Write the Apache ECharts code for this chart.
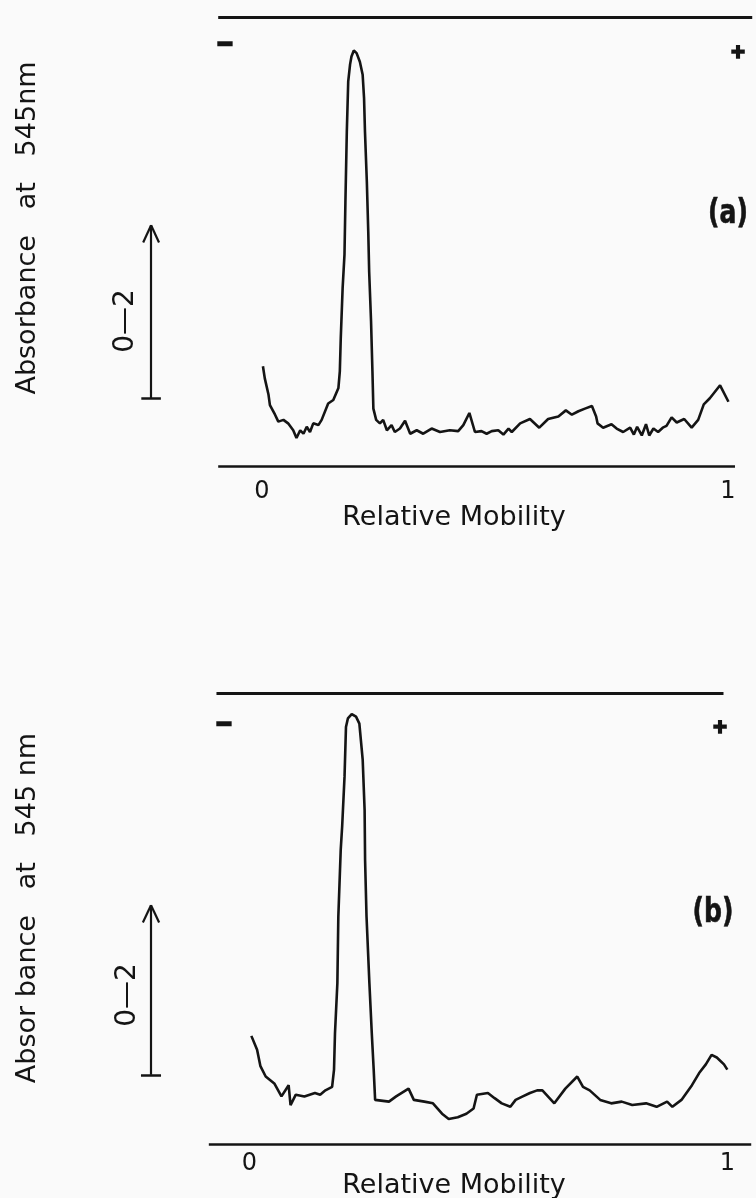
<!DOCTYPE html>
<html>
<head>
<meta charset="utf-8">
<script src="https://cdn.jsdelivr.net/npm/echarts@6/dist/echarts.min.js"></script>
<style>
html,body{margin:0;padding:0;background:#fafafa;}
#chart{width:756px;height:1198px;}
</style>
</head>
<body>
<div id="chart"></div>
<script>
// ---- data (relative mobility, absorbance at 545 nm) ----
const panelNames = ['(a)', '(b)'];
const mobilityTickLabels = ['0', '1'];
const xTitle = 'Relative Mobility';
const yTitles = ['Absorbance   at   545nm', 'Absor bance   at   545 nm'];
const scaleLabel = '0\u20142';
const scaleBarA = [0.079, 0.279];   // 0.2 absorbance units
const scaleBarB = [0.080, 0.276];

const traceA = [
 [0.002,0.116],[0.006,0.102],[0.014,0.083],[0.017,0.071],[0.028,0.060],[0.035,0.052],[0.046,0.054],
 [0.056,0.050],[0.067,0.042],[0.074,0.033],[0.082,0.042],[0.089,0.038],[0.096,0.046],[0.103,0.040],
 [0.110,0.050],[0.121,0.048],[0.128,0.054],[0.142,0.073],[0.153,0.077],[0.164,0.091],[0.167,0.110],
 [0.169,0.148],[0.173,0.206],[0.177,0.245],[0.179,0.306],[0.182,0.387],[0.185,0.445],[0.189,0.465],
 [0.192,0.474],[0.197,0.481],[0.203,0.478],[0.210,0.468],[0.216,0.453],[0.219,0.426],[0.221,0.387],
 [0.225,0.329],[0.228,0.272],[0.230,0.225],[0.234,0.168],[0.237,0.110],[0.239,0.067],[0.245,0.054],
 [0.253,0.050],[0.260,0.054],[0.268,0.042],[0.278,0.048],[0.285,0.040],[0.296,0.044],[0.307,0.053],
 [0.318,0.038],[0.332,0.042],[0.346,0.038],[0.364,0.044],[0.382,0.040],[0.403,0.042],[0.421,0.041],
 [0.432,0.048],[0.445,0.062],[0.457,0.040],[0.471,0.041],[0.482,0.038],[0.493,0.041],[0.507,0.042],
 [0.518,0.037],[0.529,0.044],[0.536,0.040],[0.554,0.050],[0.575,0.055],[0.595,0.045],[0.614,0.055],
 [0.636,0.058],[0.652,0.065],[0.665,0.060],[0.679,0.064],[0.693,0.067],[0.708,0.070],[0.717,0.058],
 [0.720,0.050],[0.732,0.045],[0.750,0.049],[0.761,0.044],[0.775,0.040],[0.790,0.045],[0.798,0.037],
 [0.805,0.046],[0.815,0.036],[0.824,0.049],[0.831,0.036],[0.840,0.044],[0.850,0.040],[0.860,0.045],
 [0.868,0.047],[0.879,0.057],[0.890,0.051],[0.906,0.055],[0.922,0.045],[0.936,0.054],[0.948,0.072],
 [0.961,0.079],[0.983,0.094],[1.001,0.075]
];

const traceB = [
 [0.004,0.125],[0.016,0.109],[0.023,0.090],[0.034,0.078],[0.052,0.070],[0.067,0.055],[0.082,0.068],
 [0.086,0.045],[0.097,0.057],[0.115,0.055],[0.137,0.059],[0.148,0.057],[0.159,0.062],[0.173,0.066],
 [0.177,0.086],[0.179,0.128],[0.184,0.186],[0.186,0.263],[0.191,0.340],[0.194,0.367],[0.199,0.425],
 [0.202,0.482],[0.206,0.492],[0.214,0.497],[0.223,0.494],[0.230,0.486],[0.237,0.444],[0.241,0.386],
 [0.242,0.328],[0.245,0.263],[0.251,0.186],[0.256,0.128],[0.260,0.086],[0.263,0.051],
 [0.292,0.049],[0.307,0.055],[0.333,0.064],[0.344,0.051],[0.366,0.049],[0.384,0.047],[0.403,0.035],
 [0.417,0.029],[0.436,0.031],[0.454,0.035],[0.469,0.041],[0.476,0.057],[0.499,0.059],[0.513,0.053],
 [0.528,0.047],[0.546,0.043],[0.557,0.051],[0.572,0.055],[0.587,0.059],[0.602,0.062],[0.613,0.062],
 [0.638,0.047],[0.661,0.064],[0.686,0.078],[0.698,0.066],[0.712,0.062],[0.734,0.051],[0.757,0.047],
 [0.779,0.049],[0.801,0.045],[0.830,0.047],[0.852,0.043],[0.874,0.049],[0.885,0.043],[0.904,0.051],
 [0.926,0.068],[0.941,0.082],[0.955,0.092],[0.967,0.103],[0.978,0.100],[0.993,0.092],[1.000,0.086]
];

// ---- chart ----
const INK = '#141414';
const FONT = 'DejaVu Sans';
const chart = echarts.init(document.getElementById('chart'), null, {renderer: 'canvas'});

function tickFormatter(v) {
  if (Math.abs(v) < 1e-6) return mobilityTickLabels[0];
  if (Math.abs(v - 1) < 1e-6) return mobilityTickLabels[1];
  return '';
}

// rails above and below the trace, plus the 0.2-absorbance scale arrow
function frameLines(topY, topX0, topX1, baseX0, baseX1, bar, barX) {
  const seg = (a, b, w) => [{coord: a, lineStyle: {width: w}}, {coord: b}];
  return [
    seg([topX0, topY], [topX1, topY], 3),
    seg([baseX0, 0], [baseX1, 0], 2.5),
    seg([barX, bar[0]], [barX, bar[1]], 2.2),
    seg([barX - 0.017, bar[1] - 0.02], [barX, bar[1]], 2.2),
    seg([barX, bar[1]], [barX + 0.017, bar[1] - 0.02], 2.2),
    seg([barX - 0.021, bar[0]], [barX + 0.021, bar[0]], 2.5)
  ];
}

function txt(x, y, text, size, extra) {
  return Object.assign({
    type: 'text', x: x, y: y, silent: true,
    style: {text: text, fill: INK, font: size + 'px "' + FONT + '"', align: 'center', verticalAlign: 'middle'}
  }, extra || {});
}
function sign(x, y, text, size, lw) {
  return {type: 'text', x: x, y: y, silent: true,
    style: {text: text, fill: INK, stroke: INK, lineWidth: lw, font: 'bold ' + size + 'px "Liberation Sans"', align: 'center', verticalAlign: 'middle'}};
}
function panelTag(x, y, text) {
  return {type: 'text', x: x, y: y, scaleX: 0.82, silent: true,
    style: {text: text, fill: INK, stroke: INK, lineWidth: 0.6, font: 'bold 34px "DejaVu Sans Condensed", "DejaVu Sans"', align: 'center', verticalAlign: 'middle'}};
}

const option = {
  backgroundColor: '#fafafa',
  animation: false,
  grid: [
    {left: 29, width: 726.96, top: 8.15, height: 458.45},
    {left: 10.5, width: 750.36, top: 685.55, height: 458.45}
  ],
  xAxis: [0, 1].map(i => ({
    type: 'value', gridIndex: i, min: -0.5, max: 1.06, interval: 0.5,
    axisLine: {show: false}, axisTick: {show: false}, splitLine: {show: false},
    axisLabel: {formatter: tickFormatter, color: INK, fontFamily: FONT, fontSize: 24,
                margin: i === 0 ? 13 : 8, showMaxLabel: false, showMinLabel: false}
  })),
  yAxis: [0, 1].map(i => ({
    type: 'value', gridIndex: i, min: 0, max: 0.53, show: false
  })),
  series: [
    {
      type: 'line', xAxisIndex: 0, yAxisIndex: 0, data: traceA, showSymbol: false,
      lineStyle: {color: INK, width: 2.6}, silent: true, clip: false,
      markLine: {silent: true, symbol: 'none', label: {show: false},
        lineStyle: {color: INK, type: 'solid', width: 2.5},
        data: frameLines(0.519, -0.094, 1.052, -0.094, 1.015, scaleBarA, -0.238)}
    },
    {
      type: 'line', xAxisIndex: 1, yAxisIndex: 1, data: traceB, showSymbol: false,
      lineStyle: {color: INK, width: 2.6}, silent: true, clip: false,
      markLine: {silent: true, symbol: 'none', label: {show: false},
        lineStyle: {color: INK, type: 'solid', width: 2.5},
        data: frameLines(0.521, -0.069, 0.992, -0.085, 1.05, scaleBarB, -0.206)}
    }
  ],
  graphic: [
    // panel (a)
    txt(28, 228, yTitles[0], 27, {rotation: Math.PI / 2}),
    txt(126, 321, scaleLabel, 28, {rotation: Math.PI / 2}),
    txt(454, 518, xTitle, 27),
    sign(225, 44, '\u2013', 26, 2.5),
    sign(738, 53, '+', 24, 1.5),
    panelTag(728, 214, panelNames[0]),
    // panel (b)
    txt(28, 908, yTitles[1], 27, {rotation: Math.PI / 2}),
    txt(128, 995, scaleLabel, 28, {rotation: Math.PI / 2}),
    txt(454, 1186, xTitle, 27),
    sign(224, 724, '\u2013', 26, 2.5),
    sign(720, 728, '+', 24, 1.5),
    panelTag(713, 913, panelNames[1])
  ]
};
chart.setOption(option);
</script>
</body>
</html>
